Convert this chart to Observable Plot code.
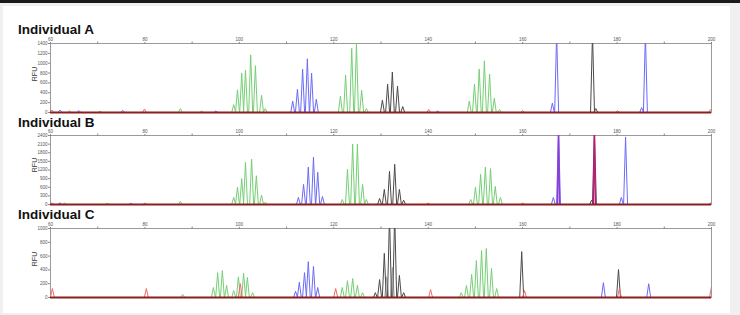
<!DOCTYPE html>
<html><head><meta charset="utf-8">
<script src="https://cdn.jsdelivr.net/npm/d3@7"></script>
<script src="https://cdn.jsdelivr.net/npm/@observablehq/plot@0.6"></script>
<style>
html,body{margin:0;padding:0;background:#f0f0f0;}
#wrap{position:relative;width:740px;height:315px;overflow:hidden;background:#f0f0f0;}
#topbar{position:absolute;left:0;top:0;width:740px;height:3px;background:#1a1a1a;}
#paper{position:absolute;left:3px;top:6px;width:727px;height:307px;background:#fff;}
.title{position:absolute;left:18px;font-family:"Liberation Sans",Arial,sans-serif;font-weight:700;font-size:13.5px;line-height:13px;color:#111;white-space:nowrap;}
.rfu{position:absolute;font-family:"Liberation Sans",sans-serif;font-size:7px;line-height:8px;color:#333;transform:rotate(-90deg);transform-origin:center;width:20px;text-align:center;}
.panel{position:absolute;left:0;}
</style></head>
<body><div id="wrap"><div id="topbar"></div><div id="paper"></div></div>
<script>
// x axis (bp) ticks
const xLabelTicks = [60, 80, 100, 120, 140, 160, 180, 200];
const xMinorTicks = [70, 90, 110, 130, 150, 170, 190];
const titles = ["Individual A", "Individual B", "Individual C"];

// y ticks per panel (RFU)
const yTicksA = [0, 200, 400, 600, 800, 1000, 1200, 1400];
const yTicksB = [0, 300, 600, 900, 1200, 1500, 1800, 2100, 2400];
const yTicksC = [0, 200, 400, 600, 800, 1000];

// peaks: [size bp, height RFU]
const aGreen = [[98.8,160],[99.6,460],[100.5,800],[101.3,860],[102.4,1170],[103.4,950],[104.7,350],[105.5,80],
  [121.4,330],[122.5,760],[123.8,1300],[124.8,1400],[125.9,450],[126.9,80],
  [148.7,230],[149.8,575],[150.8,880],[151.9,1050],[153.0,780],[154.0,290],[155.1,60],
  [87.5,80],[64.0,40],[70.5,30],[92.0,30]];
const aBlue = [[111.3,230],[112.3,470],[113.4,880],[114.4,1090],[115.3,800],[116.3,270],
  [166.3,190],[167.2,1600],[185.2,100],[186.0,1600],[62.0,50],[66.0,40],[75.3,45],[95.0,30],[142.0,30]];
const aBlack = [[130.3,250],[131.4,575],[132.4,820],[133.5,535],[134.6,120],[174.8,1600],[175.5,80]];
const aRed = [[60.3,50],[79.9,70],[140.1,60],[160.0,40],[180.1,40],[199.8,60]];

const bGreen = [[98.8,250],[99.6,600],[100.5,900],[101.3,1470],[102.6,1575],[103.6,1000],[104.7,330],[105.5,80],
  [121.8,175],[122.9,1225],[124.0,2100],[125.0,2100],[126.1,700],[126.9,175],
  [149.0,175],[150.0,600],[151.1,1050],[152.1,1300],[153.2,1250],[154.2,630],[155.3,245],
  [87.5,110],[63.0,50],[72.0,40]];
const bBlue = [[112.5,245],[113.6,700],[114.6,1300],[115.7,1645],[116.6,1120],[117.6,280],
  [166.5,245],[167.6,2600],[180.9,245],[181.8,2350],[62.0,60],[77.0,40]];
const bBlack = [[129.7,210],[130.7,525],[131.8,1155],[132.9,1400],[133.9,525],[134.8,150],[174.6,150],[175.2,2600]];
const bViolet = [[167.6,2600]];
const bMagenta = [[175.2,2600]];
const bRed = [[60.3,60],[80.0,50],[140.0,50],[160.0,50],[199.8,50]];

const cGreen = [[94.5,145],[95.4,360],[96.4,390],[97.3,175],[98.8,100],[99.8,300],[100.9,350],[101.7,290],[102.8,70],
  [121.8,145],[122.9,245],[124.0,275],[125.0,175],[126.1,70],
  [147.0,70],[148.1,175],[149.2,335],[150.2,535],[151.3,680],[152.3,710],[153.4,420],[154.5,130],[88.0,45]];
const cBlue = [[111.9,90],[112.7,220],[113.8,360],[114.6,520],[115.7,450],[116.6,145],[177.1,215],[186.7,200]];
const cBlack = [[128.8,70],[129.7,260],[130.7,640],[131.8,1200],[132.9,1200],[133.9,320],[134.8,70],[159.8,665],[180.3,405]];
const cGrey = [[132.4,435],[131.2,300]];
const cRed = [[60.4,130],[80.3,130],[100.2,200],[120.4,130],[140.5,115],[160.4,100],[180.5,130],[200.0,160]];

const colors = {green:"#74cf74", blue:"#6b6bf7", black:"#4a4a4a", grey:"#a8a8a8", red:"#f06a6a", violet:"#8a3ad8", magenta:"#c2187a"};

function trace(peaks, w) {
  return peaks.flatMap(([x, h], i) => [{x: x - w, y: 0, z: i}, {x, y: h, z: i}, {x: x + w, y: 0, z: i}]);
}

const panels = [
  {top: 30, ticks: yTicksA, series: [["green",aGreen],["blue",aBlue],["black",aBlack],["red",aRed]], titleTop: 22.5, rfuTop: 70},
  {top: 122, ticks: yTicksB, series: [["green",bGreen],["blue",bBlue],["black",bBlack],["red",bRed],["violet",bViolet],["magenta",bMagenta]], titleTop: 116, rfuTop: 161},
  {top: 215, ticks: yTicksC, series: [["green",cGreen],["blue",cBlue],["grey",cGrey],["black",cBlack],["red",cRed]], titleTop: 208, rfuTop: 255}
];

const fmt = d3.format("d");
const wrap = document.getElementById("wrap");
panels.forEach((p, k) => {
  const ymax = p.ticks[p.ticks.length - 1];
  const marks = [
    Plot.frame({stroke: "#9a9a9a", strokeWidth: 1}),
    Plot.axisX({anchor: "top", ticks: xMinorTicks, tickFormat: () => "", tickSize: 2.5, label: null, stroke: "#888"}),
    Plot.axisX({anchor: "top", ticks: xLabelTicks, tickFormat: fmt, tickSize: 2, tickPadding: 0.5, label: null, stroke: "#888", fill: "#555"}),
    Plot.axisY({ticks: p.ticks, tickFormat: fmt, tickSize: 2, tickPadding: 1, label: null, stroke: "#888", fill: "#555"})
  ];
  for (const [c, data] of p.series) {
    const w = (c === "violet" || c === "magenta") ? 0.22 : 0.42;
    marks.push(Plot.line(trace(data, w), {x: "x", y: "y", z: "z", stroke: colors[c], strokeWidth: (c === "violet" || c === "magenta") ? 1.4 : 1, clip: true}));
  }
  marks.push(Plot.ruleY([0], {stroke: "#8a1f1f", strokeWidth: 2.2}));
  const svg = Plot.plot({
    width: 740, height: 86,
    marginLeft: 50, marginRight: 29, marginTop: 13, marginBottom: 4,
    x: {domain: [60, 200]},
    y: {domain: [0, ymax]},
    style: {background: "transparent", fontSize: "4.5px", fontFamily: "Liberation Sans, sans-serif", overflow: "visible"},
    marks
  });
  svg.classList.add("panel");
  svg.style.top = p.top + "px";
  wrap.appendChild(svg);
  const t = document.createElement("div");
  t.className = "title"; t.textContent = titles[k]; t.style.top = p.titleTop + "px";
  wrap.appendChild(t);
  const r = document.createElement("div");
  r.className = "rfu"; r.textContent = "RFU"; r.style.top = p.rfuTop + "px"; r.style.left = "25px";
  wrap.appendChild(r);
});
</script></body></html>
